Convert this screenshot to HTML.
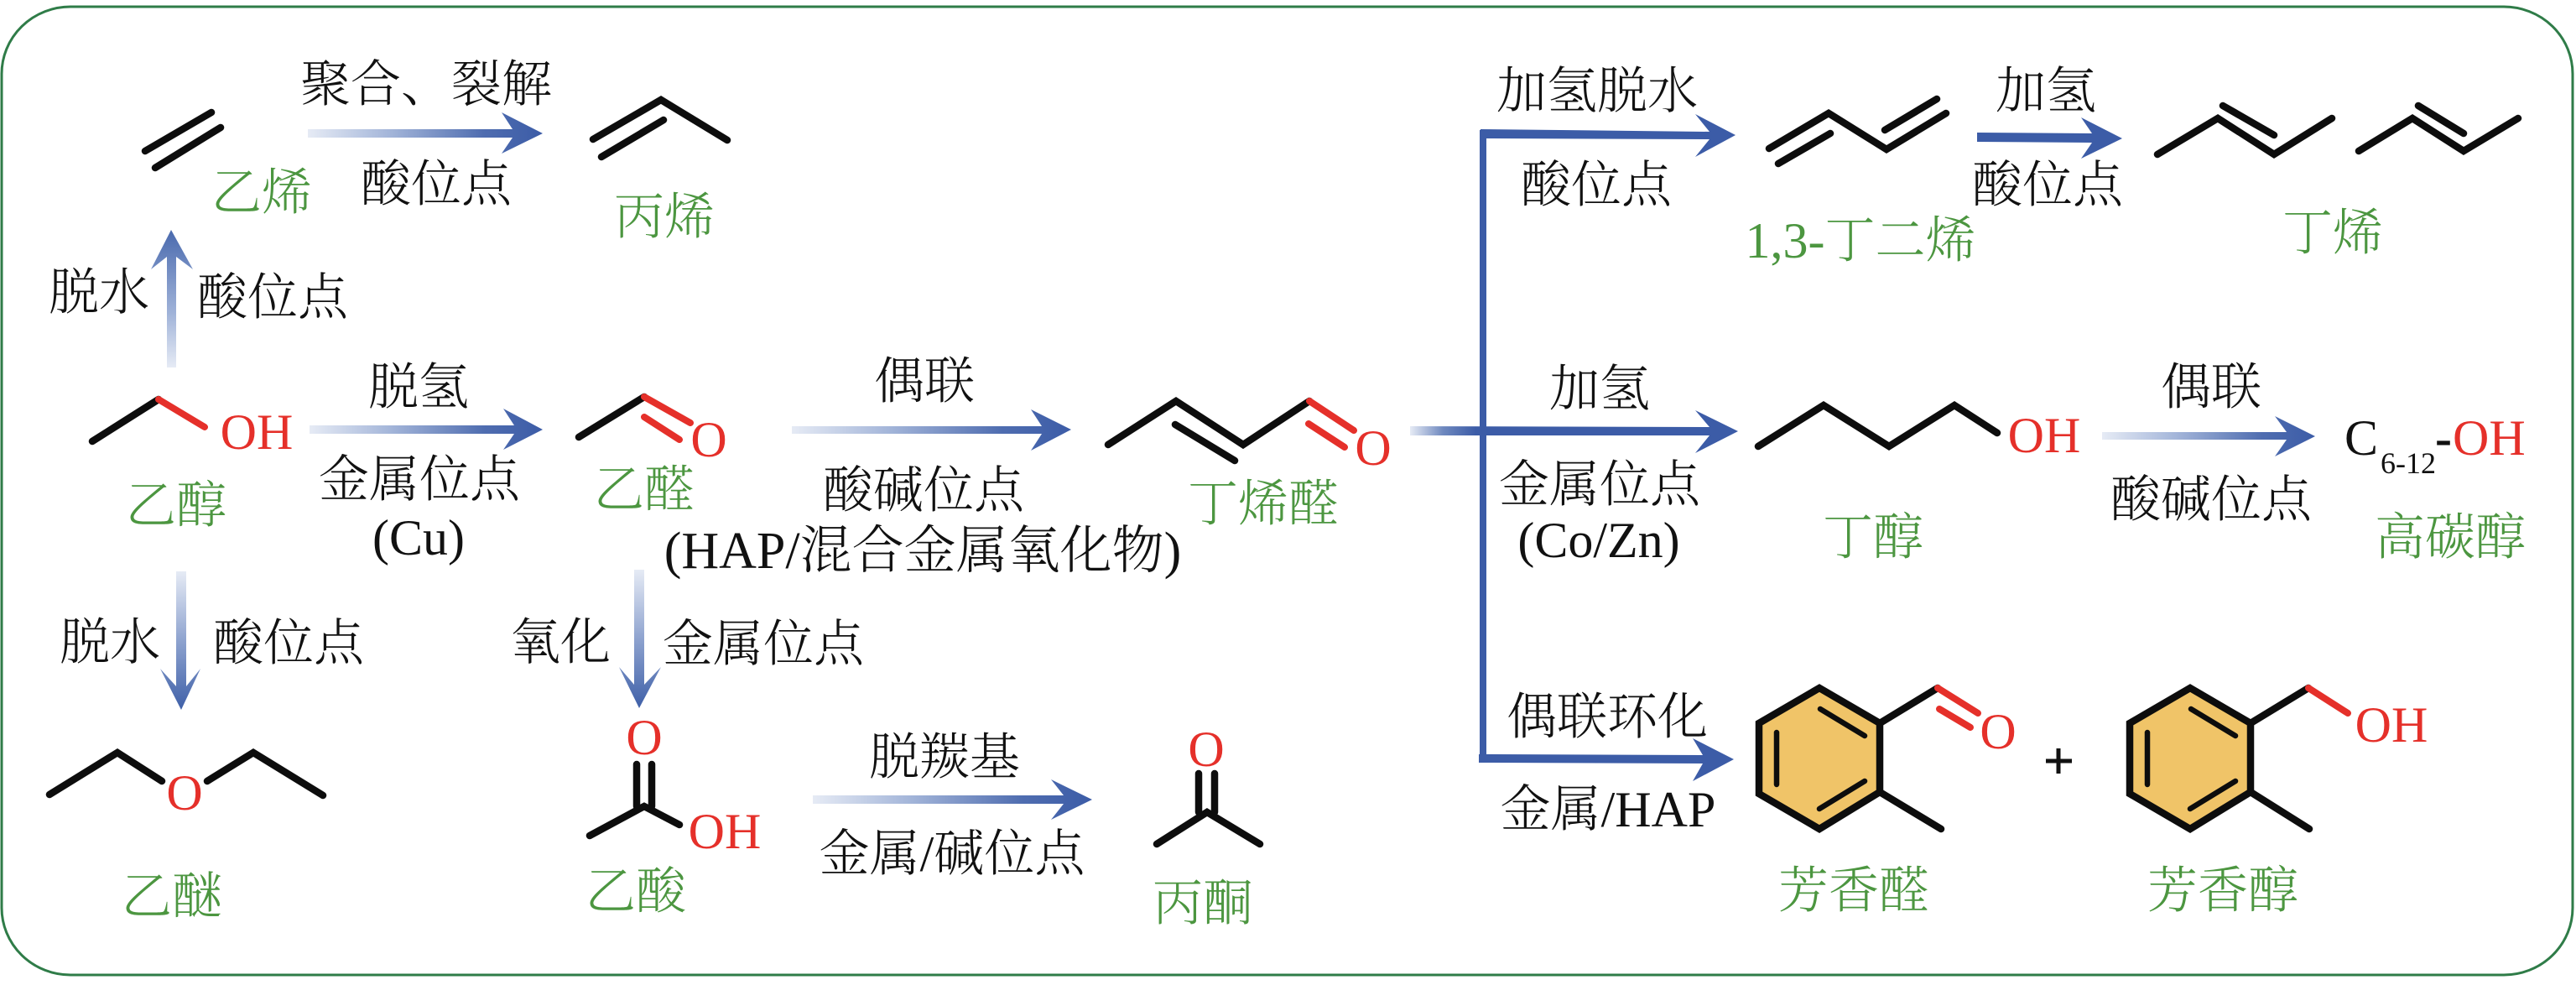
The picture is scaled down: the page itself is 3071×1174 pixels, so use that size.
<!DOCTYPE html>
<html lang="zh">
<head>
<meta charset="utf-8">
<title>乙醇转化路径</title>
<style>
html,body{margin:0;padding:0;background:#fff;width:3071px;height:1174px;overflow:hidden}
svg{display:block}
text{font-family:"Liberation Serif","Noto Serif CJK SC",serif;font-size:60px;font-weight:300}
.k{fill:#111;text-anchor:middle}
.g{fill:#4c9640;text-anchor:middle}
.r{fill:#e5302a;text-anchor:middle;font-weight:400}
.b{fill:none;stroke:#0d0d0d;stroke-width:8.5;stroke-linecap:round;stroke-linejoin:miter}
.s{fill:none;stroke:#0d0d0d;stroke-width:6.5;stroke-linecap:round}
.o{fill:none;stroke:#e5302a;stroke-width:8;stroke-linecap:round}
</style>
</head>
<body>
<svg xmlns="http://www.w3.org/2000/svg" width="3071" height="1174" viewBox="0 0 3071 1174">
<defs>
<linearGradient id="h" x1="0" y1="0" x2="1" y2="0">
<stop offset="0" stop-color="#e6ebf5"/><stop offset="0.35" stop-color="#a3b5d9"/><stop offset="0.75" stop-color="#4f6db0"/><stop offset="1" stop-color="#3c5ca7"/>
</linearGradient>
<linearGradient id="h2" x1="0" y1="0" x2="1" y2="0">
<stop offset="0" stop-color="#e6ebf5"/><stop offset="0.1" stop-color="#6f89bf"/><stop offset="0.2" stop-color="#3c5ca7"/><stop offset="1" stop-color="#3c5ca7"/>
</linearGradient>
<linearGradient id="u" x1="0" y1="1" x2="0" y2="0">
<stop offset="0" stop-color="#e6ebf5"/><stop offset="0.4" stop-color="#9fb2d8"/><stop offset="1" stop-color="#4a6aae"/>
</linearGradient>
<linearGradient id="d" x1="0" y1="0" x2="0" y2="1">
<stop offset="0" stop-color="#e6ebf5"/><stop offset="0.5" stop-color="#8ea3cf"/><stop offset="1" stop-color="#3f60a8"/>
</linearGradient>
</defs>

<rect x="2" y="8" width="3065" height="1154" rx="82" ry="80" fill="#fff" stroke="#2f7c48" stroke-width="3"/>

<!-- arrows -->
<polygon fill="url(#h)" points="367,154 611,154 598,134 647,159 598,183 611,164 367,164"/>
<polygon fill="url(#h)" points="369,507 613,507 600,487 647,512 600,536 613,517 369,517"/>
<polygon fill="url(#h)" points="944,508 1242,508 1229,488 1277,512 1229,537 1242,517 944,517"/>
<polygon fill="url(#h)" points="969,948 1268,948 1253,929 1302,953 1253,977 1268,958 969,958"/>
<polygon fill="url(#h)" points="2506,515 2726,515 2712,496 2760,520 2712,544 2726,524 2506,524"/>
<polygon fill="url(#u)" points="199,438 199,306 180,321 204,274 230,321 210,306 210,438"/>
<polygon fill="url(#d)" points="210,681 222,681 222,818 239,797 216,846 191,797 210,818"/>
<polygon fill="url(#d)" points="756,679 768,679 768,816 788,795 762,844 738,795 756,816"/>
<polygon fill="url(#h2)" points="1681,508 2038,509 2021,489 2072,514 2021,540 2038,519 1681,519"/>
<rect x="1764" y="155" width="8" height="752" fill="#3c5ca7"/>
<polygon fill="#3c5ca7" points="1765,154 2038,157 2021,136 2069,161 2021,187 2038,166 1765,165"/>
<polygon fill="#3c5ca7" points="1763,899 2030,900 2018,880 2067,905 2018,931 2030,910 1763,909"/>
<polygon fill="#3c5ca7" points="2357,158 2494,159 2481,140 2530,165 2481,189 2494,170 2357,169"/>

<!-- ethene / propene -->
<path class="b" d="M173,180L252,134M185,200L263,152"/>
<path class="b" d="M707,166L788,119L867,167M717,187L791,143"/>
<!-- ethanol -->
<path class="b" d="M110,526L189,476"/><path class="o" d="M189,476L244,509"/>
<text class="r" x="306" y="535">OH</text>
<!-- acetaldehyde -->
<path class="b" d="M690,521L768,473"/><path class="o" d="M768,473L823,504M768,497L810,524"/>
<text class="r" x="845" y="544">O</text>
<!-- crotonaldehyde -->
<path class="b" d="M1321,530L1402,478L1482,530L1561,478M1401,506L1472,549"/>
<path class="o" d="M1561,478L1614,513M1560,505L1603,533"/>
<text class="r" x="1637" y="554">O</text>
<!-- ether -->
<path class="b" d="M59,947L140,897L193,931M247,931L302,897L385,948"/>
<text class="r" x="220" y="965">O</text>
<!-- acetic acid -->
<text class="r" x="768" y="899">O</text>
<path class="b" d="M759,911L759,961M777,911L777,961M703,996L768,961L810,983"/>
<text class="r" x="864" y="1011">OH</text>
<!-- acetone -->
<text class="r" x="1438" y="913">O</text>
<path class="b" d="M1429,922L1429,968M1448,922L1448,968M1379,1006L1439,968L1502,1006"/>
<!-- butadiene -->
<path class="b" d="M2109,177L2180,135L2249,178L2320,135M2120,195L2182,159M2247,155L2309,118"/>
<!-- butenes -->
<path class="b" d="M2572,184L2644,141L2711,184L2780,141M2650,126L2711,161"/>
<path class="b" d="M2812,180L2876,141L2937,180L3002,141M2883,126L2937,159"/>
<!-- butanol -->
<path class="b" d="M2096,532L2174,483L2252,532L2330,483L2381,516"/>
<text class="r" x="2437" y="539">OH</text>
<!-- C6-12-OH -->
<text x="2795" y="542" fill="#111" font-weight="400">C</text>
<text x="2838" y="564" fill="#111" style="font-size:36px">6-12</text>
<text x="2903" y="542" fill="#111" style="font-weight:700">-</text>
<text x="2924" y="542" fill="#e5302a" style="font-weight:400">OH</text>

<!-- aromatics -->
<polygon points="2169,820 2241,862 2241,944 2169,988 2097,946 2097,862" fill="#f0c468" stroke="#0d0d0d" stroke-width="8.5" stroke-linejoin="miter"/>
<path class="s" d="M2170,845L2223,877M2118,873L2118,935M2169,964L2223,931"/>
<path class="b" d="M2241,862L2310,820M2241,944L2314,988"/>
<path class="o" d="M2310,820L2358,850M2312,845L2349,867"/>
<text class="r" x="2382" y="892">O</text>
<path d="M2454,892V922M2439,907H2470" stroke="#111" stroke-width="5" fill="none"/>
<polygon points="2611,820 2683,862 2683,944 2611,988 2539,946 2539,862" fill="#f0c468" stroke="#0d0d0d" stroke-width="8.5" stroke-linejoin="miter"/>
<path class="s" d="M2612,845L2665,877M2560,873L2560,935M2611,964L2665,931"/>
<path class="b" d="M2683,862L2752,820M2683,944L2753,988"/>
<path class="o" d="M2752,820L2799,850"/>
<text class="r" x="2851" y="884">OH</text>

<!-- black labels -->
<text class="k" x="508" y="121">聚合、裂解</text>
<text class="k" x="520" y="240">酸位点</text>
<text class="k" x="118" y="369">脱水</text>
<text class="k" x="325" y="375">酸位点</text>
<text class="k" x="499" y="482">脱氢</text>
<text class="k" x="500" y="592">金属位点</text>
<text class="k" x="499" y="661">(Cu)</text>
<text class="k" x="1100" y="677" style="font-size:62px">(HAP/混合金属氧化物)</text>
<text class="k" x="1102" y="475">偶联</text>
<text class="k" x="1101" y="605">酸碱位点</text>
<text class="k" x="131" y="786">脱水</text>
<text class="k" x="344" y="787">酸位点</text>
<text class="k" x="668" y="786">氧化</text>
<text class="k" x="910" y="788">金属位点</text>
<text class="k" x="1126" y="923">脱羰基</text>
<text class="k" x="1135" y="1038">金属/碱位点</text>
<text class="k" x="1904" y="129">加氢脱水</text>
<text class="k" x="1903" y="241">酸位点</text>
<text class="k" x="1907" y="484">加氢</text>
<text class="k" x="1907" y="598">金属位点</text>
<text class="k" x="1906" y="664">(Co/Zn)</text>
<text class="k" x="1916" y="875">偶联环化</text>
<text class="k" x="1917" y="985">金属/HAP</text>
<text class="k" x="2439" y="129">加氢</text>
<text class="k" x="2441" y="241">酸位点</text>
<text class="k" x="2636" y="482">偶联</text>
<text class="k" x="2636" y="616">酸碱位点</text>

<!-- green labels -->
<text class="g" x="312" y="250">乙烯</text>
<text class="g" x="792" y="279">丙烯</text>
<text class="g" x="210" y="623">乙醇</text>
<text class="g" x="768" y="604">乙醛</text>
<text class="g" x="1506" y="621">丁烯醛</text>
<text class="g" x="205" y="1089">乙醚</text>
<text class="g" x="758" y="1083">乙酸</text>
<text class="g" x="1434" y="1097">丙酮</text>
<text class="g" x="2218" y="307">1,3-丁二烯</text>
<text class="g" x="2781" y="298">丁烯</text>
<text class="g" x="2233" y="661">丁醇</text>
<text class="g" x="2921" y="661">高碳醇</text>
<text class="g" x="2210" y="1082">芳香醛</text>
<text class="g" x="2650" y="1082">芳香醇</text>
</svg>
</body>
</html>
